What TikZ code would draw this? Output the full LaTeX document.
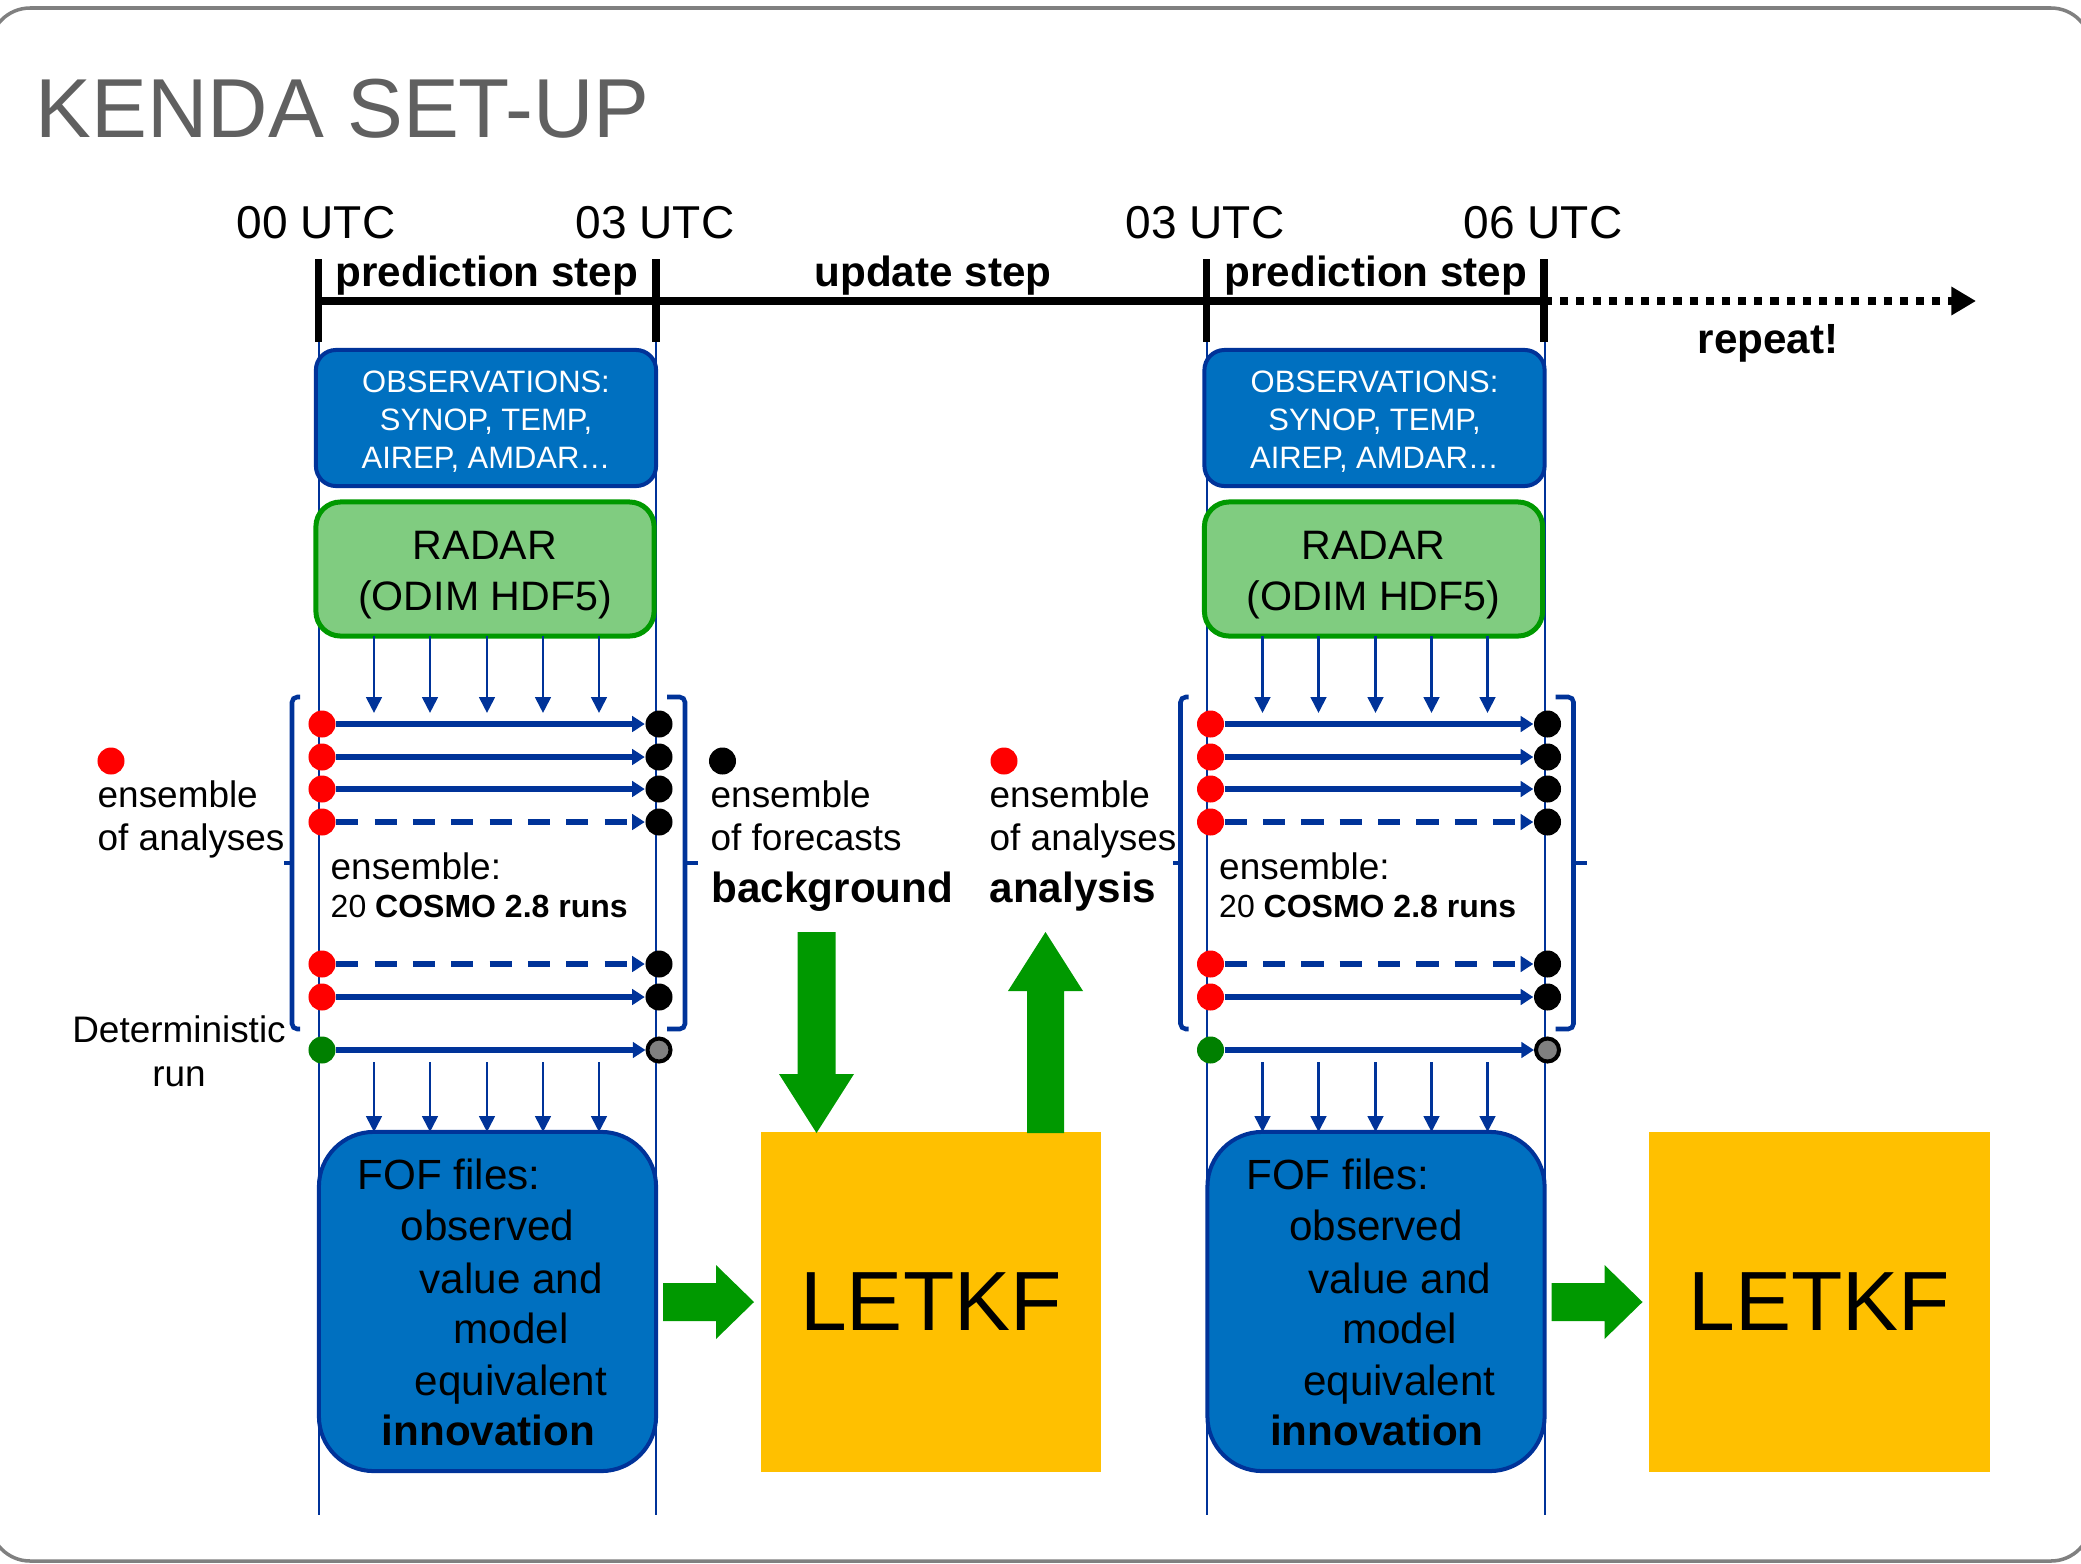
\documentclass[tikz,border=0pt]{standalone}
\usepackage{fontspec}
\setmainfont{Liberation Sans}
\usetikzlibrary{arrows.meta}
\definecolor{obsblue}{HTML}{0070C0}
\definecolor{darkblue}{HTML}{003399}
\definecolor{radarfill}{HTML}{80CC80}
\definecolor{radarline}{HTML}{009900}
\definecolor{arrowgreen}{HTML}{009900}
\definecolor{letkfcol}{HTML}{FFC000}
\definecolor{titlegrey}{HTML}{606060}
\definecolor{framegrey}{HTML}{808080}
\definecolor{detgreen}{HTML}{008000}
\definecolor{dotgrey}{HTML}{808080}
\newcommand\ftitle{\fontsize{23.8pt}{28pt}\selectfont}
\newcommand\futc{\fontsize{13.1pt}{15pt}\selectfont}
\newcommand\fstep{\fontsize{12pt}{14pt}\selectfont\bfseries}
\newcommand\fobs{\fontsize{8.8pt}{10.8pt}\selectfont}
\newcommand\fradar{\fontsize{11.7pt}{14.5pt}\selectfont}
\newcommand\flegend{\fontsize{10.5pt}{12.2pt}\selectfont}
\newcommand\fcosmo{\fontsize{9.1pt}{11pt}\selectfont}
\newcommand\ffof{\fontsize{12pt}{14pt}\selectfont}
\newcommand\fletkf{\fontsize{23.9pt}{28pt}\selectfont}
\tikzset{
  txt/.style={inner sep=0pt, anchor=base west},
  ctxt/.style={inner sep=0pt, anchor=base},
  obsbox/.style={draw=darkblue, line width=1.14pt, fill=obsblue, rounded corners=5.7pt, minimum width=3.4cm, minimum height=1.36cm, inner sep=0pt},
  radarbox/.style={draw=radarline, line width=1.42pt, fill=radarfill, rounded corners=7pt, minimum width=3.38cm, minimum height=1.34cm, inner sep=0pt},
  fofbox/.style={draw=darkblue, line width=1.14pt, fill=obsblue, rounded corners=15.6pt, minimum width=3.37cm, minimum height=3.39cm, inner sep=0pt},
  letkfbox/.style={fill=letkfcol, minimum width=3.4cm, minimum height=3.4cm, inner sep=0pt, font=\fletkf},
  reddot/.style={circle, fill=red, minimum size=0.27cm, inner sep=0pt},
  blackdot/.style={circle, fill=black, minimum size=0.27cm, inner sep=0pt},
  greendot/.style={circle, fill=detgreen, minimum size=0.27cm, inner sep=0pt},
  greydot/.style={circle, draw=black, line width=1.14pt, fill=dotgrey, minimum size=0.23cm, inner sep=0pt},
  runarrow/.style={darkblue, line width=1.5pt, -{Triangle[length=3.6pt,width=4.4pt]}},
  rundash/.style={runarrow, dash pattern=on 6.3pt off 4.6pt},
  feedarrow/.style={darkblue, line width=0.8pt, -{Triangle[length=4.5pt,width=4.4pt]}},
  guide/.style={darkblue, line width=0.57pt},
  bracketline/.style={darkblue, line width=1.3pt, rounded corners=1.5pt},
  timeline/.style={line width=2.3pt},
  tickbar/.style={line width=2pt},
  blockarrow/.style={fill=arrowgreen}
}
\newcommand\kcol[2]{%
\begin{scope}[xshift=#1]
  \coordinate (gla#2) at (318.5,342); \coordinate (glb#2) at (318.5,1515);
  \coordinate (gra#2) at (656,342);   \coordinate (grb#2) at (656,1515);
  \draw[guide] (gla#2) -- (glb#2);
  \draw[guide] (gra#2) -- (grb#2);
  % observations
  \node[obsbox] (obs#2) at (486,418) {};
  \node[ctxt, white, font=\fobs] (obsa#2) at (486,392) {OBSERVATIONS:};
  \node[ctxt, white, font=\fobs] (obsb#2) at (486,430) {SYNOP, TEMP,};
  \node[ctxt, white, font=\fobs] (obsc#2) at (486,468) {AIREP, AMDAR…};
  % radar
  \node[radarbox] (radar#2) at (485,569) {};
  \node[ctxt, font=\fradar] (rada#2) at (485,559) {RADAR};
  \node[ctxt, font=\fradar] (radb#2) at (485,610) {(ODIM HDF5)};
  % feeding arrows
  \foreach \xx [count=\k] in {374,430,487,543,599} {
    \coordinate (fa\k#2) at (\xx,636); \coordinate (fb\k#2) at (\xx,713);
    \draw[feedarrow] (fa\k#2) -- (fb\k#2);
    \coordinate (fc\k#2) at (\xx,1062); \coordinate (fd\k#2) at (\xx,1132);
    \draw[feedarrow] (fc\k#2) -- (fd\k#2);
  }
  % brackets
  \draw[bracketline] (300,697) -- (292,697) -- (292,1029) -- (300,1029);
  \draw[bracketline] (292,863) -- (284,863);
  \draw[bracketline] (667,697) -- (685,697) -- (685,1029) -- (667,1029);
  \draw[bracketline] (685,863) -- (698,863);
  % ensemble runs
  \foreach \yy/\st [count=\k] in {724/runarrow,757/runarrow,789/runarrow,822/rundash,964/rundash,997/runarrow} {
    \node[reddot] (r\k#2) at (322,\yy) {};
    \node[blackdot] (b\k#2) at (659,\yy) {};
    \draw[\st] (r\k#2) -- (b\k#2);
  }
  \node[greendot] (g#2) at (322,1050) {};
  \node[greydot] (gy#2) at (659,1050) {};
  \draw[runarrow] (g#2) -- (gy#2);
  \node[txt, font=\flegend] (ensa#2) at (330,879) {ensemble:};
  \node[txt, font=\fcosmo] (ensb#2) at (330,917) {20 \textbf{COSMO 2.8 runs}};
  % FOF
  \node[fofbox] (fof#2) at (487.5,1301.5) {};
  \node[txt, font=\ffof] (fofa#2) at (357,1189) {FOF files:};
  \node[txt, font=\ffof] (fofb#2) at (400,1240) {observed};
  \node[txt, font=\ffof] (fofc#2) at (419,1293) {value and};
  \node[txt, font=\ffof] (fofd#2) at (453,1343) {model};
  \node[txt, font=\ffof] (fofe#2) at (414,1395) {equivalent};
  \node[txt, font=\ffof\bfseries] (foff#2) at (381,1445) {innovation};
  % green arrow to LETKF
  \fill[blockarrow] (663,1283) -- (716,1283) -- (716,1265) -- (754,1302) -- (716,1339) -- (716,1321) -- (663,1321) -- cycle;
  \node[letkfbox] (letkf#2) at (931,1302) {LETKF};
\end{scope}}
\begin{document}
\begin{tikzpicture}[x=0.01cm, y=-0.01cm]
\useasboundingbox (0,0) rectangle (2081,1563);
\clip (0,0) rectangle (2081,1563);
\draw[framegrey, line width=1pt, rounded corners=11.4pt] (-10,8) rectangle (2091,1561);
\node[txt, titlegrey, font=\ftitle] (title) at (35,137) {KENDA SET-UP};
% timeline
\coordinate (t0) at (318.5,301);
\coordinate (t1) at (656,301);
\coordinate (t2) at (1206.5,301);
\coordinate (t3) at (1544,301);
\coordinate (tend) at (1976,301);
\draw[timeline] (t0) -- (t3);
\draw[timeline, dash pattern=on 2.3pt off 2.3pt, -{Triangle[length=7pt,width=7.7pt]}] (t3) -- (tend);
\foreach \xx/\nm in {318.5/a,656/b,1206.5/c,1544/d} {
  \coordinate (tk\nm1) at (\xx,259); \coordinate (tk\nm2) at (\xx,342);
  \draw[tickbar] (tk\nm1) -- (tk\nm2);
}
\node[txt, font=\futc] (utc0) at (236,238) {00 UTC};
\node[txt, font=\futc] (utc3a) at (575,238) {03 UTC};
\node[txt, font=\futc] (utc3b) at (1125,238) {03 UTC};
\node[txt, font=\futc] (utc6) at (1463,238) {06 UTC};
\node[ctxt, font=\fstep] (pred1) at (487,286) {prediction step};
\node[ctxt, font=\fstep] (upd) at (933,286) {update step};
\node[ctxt, font=\fstep] (pred2) at (1376,286) {prediction step};
\node[ctxt, font=\fstep] (rep) at (1768,353) {repeat!};
% columns
\kcol{0cm}{A}
\kcol{8.88cm}{B}
% left legend
\node[reddot] (legred) at (111,761) {};
\node[txt, font=\flegend] (lega) at (97,807) {ensemble};
\node[txt, font=\flegend] (legb) at (97,850) {of analyses};
\node[ctxt, font=\flegend] (deta) at (179,1042) {Deterministic};
\node[ctxt, font=\flegend] (detb) at (179,1086) {run};
% middle legends
\node[blackdot] (legblack) at (722.5,761) {};
\node[txt, font=\flegend] (bga) at (710,807) {ensemble};
\node[txt, font=\flegend] (bgb) at (710,850) {of forecasts};
\node[txt, font=\fstep] (bgc) at (711,902) {background};
\node[reddot] (legred2) at (1004,761) {};
\node[txt, font=\flegend] (ana) at (989,807) {ensemble};
\node[txt, font=\flegend] (anb) at (989,850) {of analyses};
\node[txt, font=\fstep] (anc) at (989,902) {analysis};
% big green arrows
\fill[blockarrow] (797.5,932) -- (835.5,932) -- (835.5,1074) -- (854,1074) -- (816.5,1133) -- (779,1074) -- (797.5,1074) -- cycle;
\fill[blockarrow] (1027,1133) -- (1027,991) -- (1008,991) -- (1045.5,932) -- (1083,991) -- (1064,991) -- (1064,1133) -- cycle;
\end{tikzpicture}
\end{document}
